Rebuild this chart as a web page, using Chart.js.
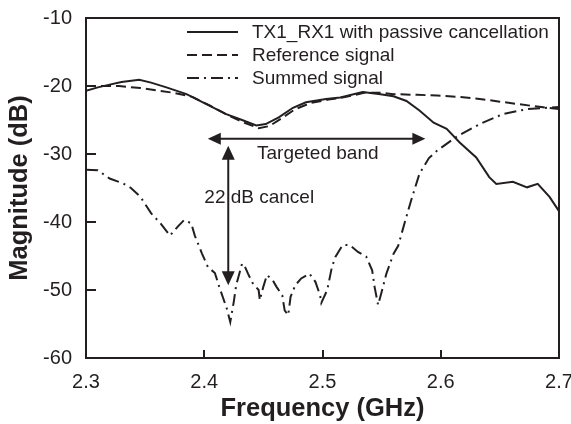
<!DOCTYPE html>
<html>
<head>
<meta charset="utf-8">
<script src="https://cdn.jsdelivr.net/npm/chart.js@4/dist/chart.umd.min.js"></script>
<style>
  html, body { margin: 0; padding: 0; background: #fff; }
</style>
</head>
<body>
<canvas id="c" width="571" height="424"></canvas>
<script>
// Frequency axis ticks (GHz) and magnitude axis ticks (dB)
const freqTicks = [2.3, 2.4, 2.5, 2.6, 2.7];
const magTicks = [-60, -50, -40, -30, -20, -10];

// TX1_RX1 with passive cancellation
const txFreq = [2.300, 2.310, 2.320, 2.330, 2.345, 2.355, 2.368, 2.385, 2.401, 2.418, 2.432, 2.444, 2.452, 2.463, 2.475, 2.486, 2.503, 2.515, 2.534, 2.549, 2.560, 2.571, 2.582, 2.594, 2.605, 2.616, 2.630, 2.641, 2.647, 2.661, 2.673, 2.682, 2.692, 2.700];
const txMag  = [-20.7, -20.2, -19.8, -19.4, -19.1, -19.5, -20.2, -21.2, -22.6, -24.1, -25.0, -25.8, -25.6, -24.6, -23.2, -22.4, -21.9, -21.7, -20.9, -21.2, -21.5, -22.2, -23.6, -25.4, -26.3, -28.3, -30.5, -33.4, -34.4, -34.1, -34.9, -34.4, -36.3, -38.4];

// Reference signal
const refFreq = [2.300, 2.328, 2.346, 2.374, 2.390, 2.405, 2.420, 2.434, 2.446, 2.455, 2.465, 2.477, 2.490, 2.505, 2.520, 2.535, 2.550, 2.560, 2.580, 2.597, 2.615, 2.633, 2.650, 2.667, 2.685, 2.700];
const refMag  = [-20.0, -20.0, -20.3, -21.0, -21.6, -22.9, -24.3, -25.4, -26.2, -25.9, -24.8, -23.4, -22.5, -22.0, -21.6, -21.0, -21.0, -21.2, -21.3, -21.4, -21.6, -21.9, -22.3, -22.7, -23.1, -23.4];

// Summed signal
const sumFreq = [2.300, 2.310, 2.320, 2.331, 2.338, 2.346, 2.355, 2.363, 2.371, 2.378, 2.383, 2.389, 2.392, 2.398, 2.403, 2.409, 2.413, 2.419, 2.422, 2.425, 2.427, 2.432, 2.434, 2.437, 2.441, 2.446, 2.447, 2.450, 2.453, 2.458, 2.461, 2.466, 2.468, 2.471, 2.473, 2.477, 2.482, 2.489, 2.494, 2.498, 2.499, 2.504, 2.508, 2.511, 2.517, 2.523, 2.530, 2.537, 2.542, 2.544, 2.547, 2.550, 2.554, 2.560, 2.564, 2.570, 2.575, 2.582, 2.590, 2.597, 2.613, 2.633, 2.653, 2.673, 2.700];
const sumMag  = [-32.3, -32.4, -33.6, -34.3, -35.0, -36.3, -38.7, -40.2, -42.0, -40.6, -39.7, -40.2, -42.0, -44.6, -46.6, -47.5, -49.7, -52.7, -54.7, -51.7, -49.3, -46.1, -46.4, -47.6, -49.0, -50.0, -51.5, -49.5, -47.8, -48.6, -49.5, -50.8, -53.0, -53.7, -51.0, -49.3, -48.3, -47.6, -48.8, -50.8, -51.9, -50.0, -46.6, -45.1, -43.4, -43.4, -44.4, -45.1, -47.1, -49.5, -52.2, -50.3, -47.6, -44.7, -43.5, -39.8, -36.8, -32.9, -30.6, -29.5, -27.5, -25.6, -24.1, -23.4, -23.1];

const seriesLabels = ['TX1_RX1 with passive cancellation', 'Reference signal', 'Summed signal'];

// Annotations in data coordinates
const bandArrow = { from: 2.403, to: 2.587, level: -27.75, text: 'Targeted band', textFreq: 2.496, textLevel: -29.9 };
const cancelArrow = { freq: 2.4203, top: -28.8, bottom: -49.3, text: '22 dB cancel', textFreq: 2.4465, textLevel: -36.5 };

const FONT = '"Liberation Sans", Arial, Helvetica, sans-serif';
const INK = '#231f20';

const toPoints = (xs, ys) => xs.map((x, i) => ({ x, y: ys[i] }));

function arrowHead(ctx, x, y, dx, dy, len, half) {
  // tip at (x,y), pointing along (dx,dy)
  ctx.beginPath();
  ctx.moveTo(x, y);
  ctx.lineTo(x - dx * len - dy * half, y - dy * len + dx * half);
  ctx.lineTo(x - dx * len + dy * half, y - dy * len - dx * half);
  ctx.closePath();
  ctx.fill();
}

const framePlugin = {
  id: 'frameAndNotes',
  afterDatasetsDraw(chart) {
    const { ctx, chartArea: a, scales: { x, y } } = chart;
    ctx.save();
    ctx.strokeStyle = INK;
    ctx.fillStyle = INK;
    ctx.setLineDash([]);

    // plot frame
    ctx.lineWidth = 2;
    ctx.strokeRect(a.left, a.top, a.right - a.left, a.bottom - a.top);

    // inward tick marks
    ctx.lineWidth = 2;
    ctx.beginPath();
    freqTicks.forEach(v => {
      const px = Math.round(x.getPixelForValue(v));
      ctx.moveTo(px, a.bottom);
      ctx.lineTo(px, a.bottom - 8);
    });
    magTicks.forEach(v => {
      const py = Math.round(y.getPixelForValue(v));
      ctx.moveTo(a.left, py);
      ctx.lineTo(a.left + 10, py);
    });
    ctx.stroke();

    // targeted band double arrow
    const bx1 = x.getPixelForValue(bandArrow.from);
    const bx2 = x.getPixelForValue(bandArrow.to);
    const by = y.getPixelForValue(bandArrow.level);
    ctx.lineWidth = 2;
    ctx.beginPath();
    ctx.moveTo(bx1 + 8, by);
    ctx.lineTo(bx2 - 8, by);
    ctx.stroke();
    arrowHead(ctx, bx1, by, -1, 0, 13, 6);
    arrowHead(ctx, bx2, by, 1, 0, 13, 6);

    // cancellation depth double arrow
    const cx = x.getPixelForValue(cancelArrow.freq);
    const cy1 = y.getPixelForValue(cancelArrow.top);
    const cy2 = y.getPixelForValue(cancelArrow.bottom);
    ctx.beginPath();
    ctx.moveTo(cx, cy1 + 8);
    ctx.lineTo(cx, cy2 - 8);
    ctx.stroke();
    arrowHead(ctx, cx, cy1, 0, -1, 14, 6.5);
    arrowHead(ctx, cx, cy2, 0, 1, 14, 6.5);

    // annotation texts
    ctx.font = '19px ' + FONT;
    ctx.textAlign = 'center';
    ctx.textBaseline = 'middle';
    ctx.fillText(bandArrow.text, x.getPixelForValue(bandArrow.textFreq), y.getPixelForValue(bandArrow.textLevel));
    ctx.fillText(cancelArrow.text, x.getPixelForValue(cancelArrow.textFreq), y.getPixelForValue(cancelArrow.textLevel));

    // legend
    const lx1 = a.left + 101, lx2 = a.left + 152, tx = a.left + 166;
    const rows = [a.top + 14, a.top + 37, a.top + 60];
    ctx.textAlign = 'left';
    ctx.font = '19px ' + FONT;
    chart.data.datasets.forEach((ds, i) => {
      ctx.lineWidth = 2;
      ctx.setLineDash(ds.borderDash || []);
      ctx.beginPath();
      ctx.moveTo(lx1, rows[i]);
      ctx.lineTo(lx2, rows[i]);
      ctx.stroke();
      ctx.setLineDash([]);
      ctx.fillText(ds.label, tx, rows[i] + 1);
    });
    ctx.restore();
  }
};

new Chart(document.getElementById('c'), {
  type: 'line',
  data: {
    datasets: [
      { label: seriesLabels[0], data: toPoints(txFreq, txMag), borderColor: INK, borderWidth: 2, borderDash: [] },
      { label: seriesLabels[1], data: toPoints(refFreq, refMag), borderColor: INK, borderWidth: 2, borderDash: [10, 5] },
      { label: seriesLabels[2], data: toPoints(sumFreq, sumMag), borderColor: INK, borderWidth: 2, borderDash: [12, 5, 2, 5] }
    ]
  },
  options: {
    responsive: false,
    animation: false,
    events: [],
    elements: { point: { radius: 0 }, line: { tension: 0 } },
    layout: { padding: { left: 0, right: 12, top: 18, bottom: 0 } },
    plugins: { legend: { display: false }, tooltip: { enabled: false } },
    scales: {
      x: {
        type: 'linear', min: 2.3, max: 2.7,
        grid: { display: false, drawTicks: false },
        border: { display: false },
        ticks: {
          stepSize: 0.1, autoSkip: false, maxRotation: 0, padding: 12, color: INK,
          font: { size: 20, family: FONT },
          callback: v => Number(v).toFixed(1)
        },
        title: { display: true, text: 'Frequency (GHz)', color: INK, font: { size: 25.5, weight: 'bold', family: FONT }, padding: { top: 0, bottom: 0 } },
        afterFit(s) { s.height = 66; s.paddingLeft = 0; s.paddingRight = 0; }
      },
      y: {
        min: -60, max: -10,
        grid: { display: false, drawTicks: false },
        border: { display: false },
        ticks: { stepSize: 10, padding: 14, color: INK, font: { size: 20, family: FONT } },
        title: { display: true, text: 'Magnitude (dB)', color: INK, font: { size: 25.5, weight: 'bold', family: FONT }, padding: { top: 5, bottom: 0 } },
        afterFit(s) { s.width = 86; s.paddingTop = 0; s.paddingBottom = 0; }
      }
    }
  },
  plugins: [framePlugin]
});
</script>
</body>
</html>
